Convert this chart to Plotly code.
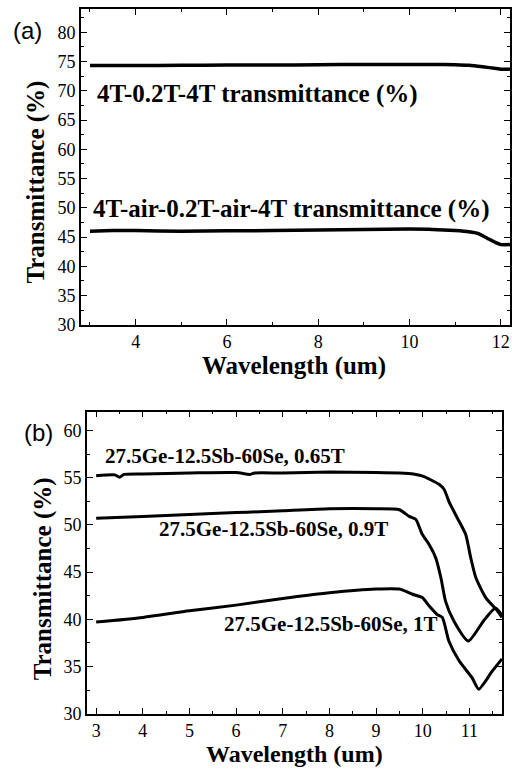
import plotly.graph_objects as go

# Panel (a)
a_x1 = [3.0, 4, 5, 6, 7, 8, 9, 10, 10.5, 11, 11.3, 11.6, 11.9, 12.0, 12.2]
a_y1 = [74.3, 74.3, 74.35, 74.4, 74.4, 74.45, 74.5, 74.5, 74.5, 74.45, 74.35, 74.1, 73.8, 73.7, 73.7]
a_x2 = [3.0, 3.5, 4, 5, 6, 7, 8, 9, 10, 10.5, 11, 11.3, 11.5, 11.7, 11.9, 12.0, 12.2]
a_y2 = [46.0, 46.1, 46.1, 46.0, 46.05, 46.1, 46.2, 46.3, 46.35, 46.3, 46.1, 45.9, 45.6, 44.8, 44.0, 43.7, 43.7]

# Panel (b)
b_x065 = [3.0, 3.4, 3.5, 3.6, 4, 5, 6, 6.3, 6.4, 7, 8, 9, 9.5, 9.8, 10.0, 10.35, 10.46, 10.56, 10.74, 10.92, 11.03, 11.14, 11.35, 11.6, 11.7]
b_y065 = [55.2, 55.3, 55.05, 55.35, 55.4, 55.5, 55.55, 55.35, 55.5, 55.5, 55.6, 55.55, 55.5, 55.4, 55.16, 54.3, 53.75, 52.5, 50.75, 49.0, 46.5, 44.4, 42.3, 40.9, 40.2]
b_x09 = [3.0, 4, 5, 6, 6.5, 7, 8, 9, 9.5, 9.71, 9.85, 9.99, 10.14, 10.28, 10.39, 10.49, 10.67, 10.98, 11.3, 11.56, 11.7]
b_y09 = [50.7, 50.9, 51.1, 51.3, 51.4, 51.5, 51.7, 51.7, 51.6, 50.9, 50.6, 49.0, 47.9, 46.5, 44.4, 41.9, 39.8, 37.7, 39.8, 41.2, 40.4]
b_x1 = [3.0, 4.0, 5.0, 6.0, 7.0, 8.0, 9.0, 9.5, 9.78, 9.99, 10.14, 10.31, 10.42, 10.56, 10.78, 11.06, 11.2, 11.49, 11.7]
b_y1 = [39.7, 40.2, 40.9, 41.5, 42.2, 42.8, 43.2, 43.2, 42.65, 42.3, 41.4, 40.5, 40.2, 37.7, 35.6, 33.8, 32.6, 34.5, 35.8]

lab_a = ["4T-0.2T-4T transmittance (%)", "4T-air-0.2T-air-4T transmittance (%)"]
lab_b = ["27.5Ge-12.5Sb-60Se, 0.65T", "27.5Ge-12.5Sb-60Se, 0.9T", "27.5Ge-12.5Sb-60Se, 1T"]

SERIF = "Liberation Serif"
TICKF = "Times New Roman"
SANS = "Liberation Sans"

fig = go.Figure()
line_a = dict(color="black", width=3.5, shape="spline", smoothing=0.6)
line_b = dict(color="black", width=3, shape="spline", smoothing=0.6)
fig.add_trace(go.Scatter(x=a_x1, y=a_y1, mode="lines", line=line_a, xaxis="x", yaxis="y"))
fig.add_trace(go.Scatter(x=a_x2, y=a_y2, mode="lines", line=line_a, xaxis="x", yaxis="y"))
fig.add_trace(go.Scatter(x=b_x065, y=b_y065, mode="lines", line=line_b, xaxis="x2", yaxis="y2"))
fig.add_trace(go.Scatter(x=b_x09, y=b_y09, mode="lines", line=line_b, xaxis="x2", yaxis="y2"))
fig.add_trace(go.Scatter(x=b_x1, y=b_y1, mode="lines", line=line_b, xaxis="x2", yaxis="y2"))

def axis(**kw):
    d = dict(showline=True, linecolor="black", linewidth=1.5, mirror="ticks",
             ticks="inside", ticklen=6, tickwidth=1.2, tickcolor="black",
             showgrid=False, zeroline=False,
             tickfont=dict(family=TICKF, size=18, color="black"))
    d.update(kw)
    return d

fig.update_layout(
    width=512, height=775, margin=dict(l=0, r=0, t=0, b=0),
    font=dict(family=SERIF, size=18, color="black"),
    paper_bgcolor="white", plot_bgcolor="white", showlegend=False,
    xaxis=axis(domain=[81/512, 511/512], anchor="y", range=[2.8, 12.2], dtick=2, tick0=0,
               minor=dict(dtick=1, ticks="inside", ticklen=3, tickcolor="black")),
    yaxis=axis(domain=[1-329/775, 1-9/775], anchor="x", range=[30, 84], dtick=5, tick0=0,
               minor=dict(dtick=2.5, ticks="inside", ticklen=3, tickcolor="black")),
    xaxis2=axis(domain=[87/512, 503/512], anchor="y2", range=[2.8, 11.7], dtick=1, tick0=0,
                minor=dict(dtick=0.5, ticks="inside", ticklen=3, tickcolor="black")),
    yaxis2=axis(domain=[1-723/775, 1-417/775], anchor="x2", range=[30, 62], dtick=5, tick0=0,
                minor=dict(dtick=2.5, ticks="inside", ticklen=3, tickcolor="black")),
)

def A(text, x, y, xref, yref, size, family=SERIF, angle=0, xanchor="center"):
    return dict(text=text, x=x, y=y, xref=xref, yref=yref, xanchor=xanchor, yanchor="middle",
                textangle=angle, showarrow=False, font=dict(family=family, size=size, color="black"))

ann = [
    A("<b>" + lab_a[0] + "</b>", 3.11, 69.5, "x", "y", 25, xanchor="left"),
    A("<b>" + lab_a[1] + "</b>", 3.02, 49.8, "x", "y", 25, xanchor="left"),
    A("<b>" + lab_b[0] + "</b>", 3.14, 57.3, "x2", "y2", 21, xanchor="left"),
    A("<b>" + lab_b[1] + "</b>", 4.30, 49.55, "x2", "y2", 21, xanchor="left"),
    A("<b>" + lab_b[2] + "</b>", 5.69, 39.5, "x2", "y2", 21, xanchor="left"),
    A("<b>Transmittance (%)</b>", 36/512, 1-184/775, "paper", "paper", 25, angle=-90),
    A("<b>Transmittance (%)</b>", 44/512, 1-586/775, "paper", "paper", 25, angle=-90),
    A("<b>Wavelength (um)</b>", 295/512, 1-371/775, "paper", "paper", 25),
    A("<b>Wavelength (um)</b>", 295/512, 1-764/775, "paper", "paper", 24),
    A("(a)", 28/512, 1-31/775, "paper", "paper", 24, family=SANS),
    A("(b)", 39/512, 1-438/775, "paper", "paper", 24, family=SANS),
]
fig.update_layout(annotations=ann)

fig.write_html("out.html")
